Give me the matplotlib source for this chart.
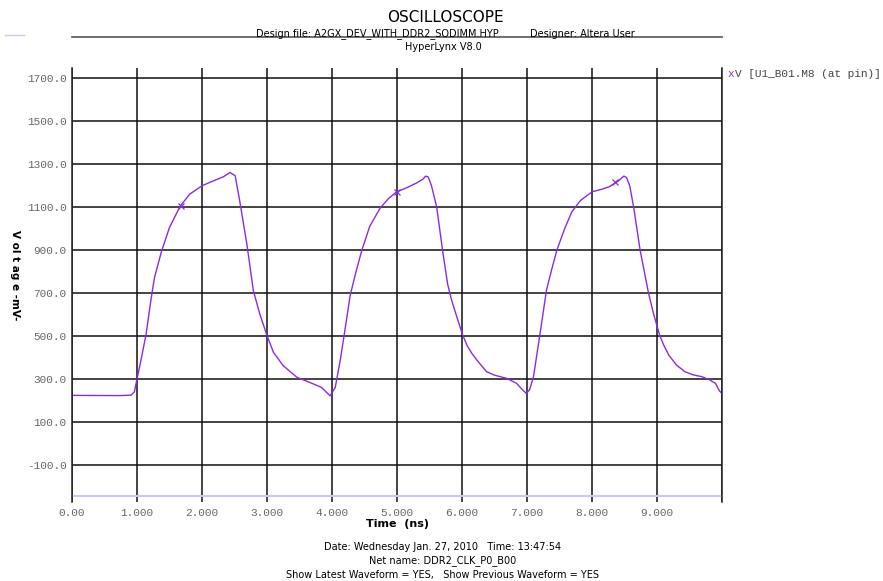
import matplotlib.pyplot as plt
from matplotlib.lines import Line2D

# waveform (time in ns, voltage in mV)
t_ns = [0.0, 0.73, 0.91, 0.96, 1.0, 1.07, 1.14, 1.22, 1.27, 1.38, 1.50, 1.66, 1.81,
        2.0, 2.12, 2.33, 2.43, 2.51, 2.58, 2.69, 2.79, 2.89, 3.0, 3.10, 3.25, 3.46,
        3.66, 3.84, 3.97, 4.05, 4.13, 4.20, 4.28, 4.37, 4.46, 4.58, 4.74, 4.87, 4.99,
        5.15, 5.30, 5.40, 5.44, 5.48, 5.53, 5.61, 5.71, 5.78, 5.84, 5.93, 6.01, 6.08,
        6.15, 6.25, 6.38, 6.50, 6.69, 6.84, 6.93, 6.99, 7.04, 7.10, 7.20, 7.30, 7.38,
        7.46, 7.58, 7.69, 7.82, 8.0, 8.15, 8.26, 8.40, 8.49, 8.53, 8.58, 8.64, 8.74,
        8.87, 8.95, 9.04, 9.10, 9.18, 9.30, 9.43, 9.55, 9.69, 9.80, 9.90, 9.96, 10.0]
v_mv = [224, 223, 225, 241, 300, 401, 509, 680, 773, 897, 1005, 1102, 1160,
        1199, 1215, 1241, 1261, 1246, 1129, 928, 711, 602, 502, 424, 362, 308,
        284, 261, 222, 261, 393, 530, 690, 800, 900, 1010, 1095, 1140, 1170,
        1190, 1212, 1230, 1244, 1240, 1200, 1101, 880, 740, 667, 580, 505, 455,
        420, 380, 334, 318, 303, 280, 250, 233, 250, 311, 510, 714, 810,
        900, 1000, 1078, 1130, 1171, 1183, 1194, 1220, 1244, 1238, 1200, 1101, 900,
        699, 600, 505, 460, 412, 365, 334, 320, 311, 298, 280, 245, 233]

# probe markers on the trace
marker_t = [1.68, 5.0, 8.35]
marker_v = [1106, 1171, 1215]

# second (previous) waveform, flat near the bottom
prev_level = -243

y_ticks = [-100, 100, 300, 500, 700, 900, 1100, 1300, 1500, 1700]
x_ticks = [0, 1, 2, 3, 4, 5, 6, 7, 8, 9, 10]
x_labels = ['0.00', '1.000', '2.000', '3.000', '4.000', '5.000',
            '6.000', '7.000', '8.000', '9.000', '']

purple = '#8a2be2'
mono = 'Liberation Mono'

fig = plt.figure(figsize=(8.83, 5.81), dpi=100)
ax = fig.add_axes([72 / 883, 1 - 502 / 581, 650 / 883, 434 / 581])

ax.plot(t_ns, v_mv, color=purple, lw=1.0)
ax.plot(marker_t, marker_v, 'x', color=purple, ms=4, mew=0.9)
ax.axhline(prev_level, color='#c8c8ff', lw=1.5)

ax.set_xlim(0, 10)
ax.set_ylim(-272, 1747)
ax.set_xticks(x_ticks)
ax.set_xticklabels(x_labels)
ax.set_yticks(y_ticks)
ax.set_yticklabels([f'{v:.1f}' for v in y_ticks])
ax.tick_params(length=0, pad=4, labelsize=8, labelcolor='#666666')
for lab in ax.get_xticklabels() + ax.get_yticklabels():
    lab.set_family(mono)

ax.grid(True, color='#111111', lw=1.1)
for s in ['top', 'bottom']:
    ax.spines[s].set_visible(False)
for s in ['left', 'right']:
    ax.spines[s].set_color('#222222')
    ax.spines[s].set_linewidth(1.1)

ax.set_xlabel('Time  (ns)', fontsize=8, fontweight='bold', labelpad=1)
fig.text(15 / 883, 1 - 275 / 581, 'V ol t ag e -mV-', rotation=-90, fontsize=7.5,
         fontweight='bold', ha='center', va='center')

# header
fig.text(445 / 883, 1 - 18 / 581, 'OSCILLOSCOPE', fontsize=11, ha='center', va='center')
fig.add_artist(Line2D([72 / 883, 722 / 883], [1 - 37 / 581, 1 - 37 / 581],
                      color='#555555', lw=1.2))
fig.text(445 / 883, 1 - 34 / 581,
         'Design file: A2GX_DEV_WITH_DDR2_SODIMM.HYP          Designer: Altera User',
         fontsize=7, ha='center', va='center')
fig.text(443 / 883, 1 - 47 / 581, 'HyperLynx V8.0', fontsize=7, ha='center', va='center')
fig.add_artist(Line2D([5 / 883, 24 / 883], [1 - 35 / 581, 1 - 35 / 581],
                      color='#c8c8ff', lw=1.0))

# legend entry on the right
fig.text(727 / 883, 1 - 74 / 581, 'x', color=purple, fontsize=8, family=mono,
         ha='left', va='center')
fig.text(735 / 883, 1 - 74 / 581, 'V [U1_B01.M8 (at pin)]', color='#444444',
         fontsize=8, family=mono, ha='left', va='center')

# footer
fig.text(443 / 883, 1 - 547 / 581, 'Date: Wednesday Jan. 27, 2010   Time: 13:47:54',
         fontsize=7, ha='center', va='center')
fig.text(443 / 883, 1 - 561 / 581, 'Net name: DDR2_CLK_P0_B00',
         fontsize=7, ha='center', va='center')
fig.text(443 / 883, 1 - 575 / 581,
         'Show Latest Waveform = YES,   Show Previous Waveform = YES',
         fontsize=7, ha='center', va='center')

fig.savefig('out.png', dpi=100)
